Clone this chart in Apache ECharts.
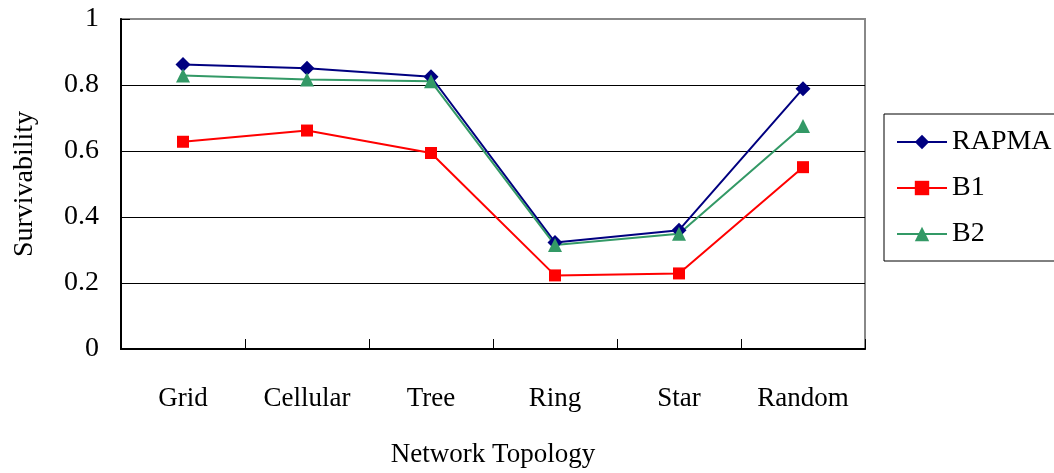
<!DOCTYPE html>
<html>
<head>
<meta charset="utf-8">
<script src="https://cdn.jsdelivr.net/npm/echarts@6/dist/echarts.min.js"></script>
<style>
  html, body { margin: 0; padding: 0; background: #fff; }
  #chart { width: 1054px; height: 473px; }
</style>
</head>
<body>
<div id="chart"></div>
<script>
// Survivability per network topology for the three schemes
const topologies = ['Grid', 'Cellular', 'Tree', 'Ring', 'Star', 'Random'];
const rapma = [0.862, 0.851, 0.825, 0.323, 0.360, 0.789];
const b1 = [0.628, 0.662, 0.594, 0.223, 0.229, 0.551];
const b2 = [0.829, 0.817, 0.811, 0.315, 0.349, 0.676];
const yTicks = [0, 0.2, 0.4, 0.6, 0.8, 1];

const FONT = '"Liberation Serif", "DejaVu Serif", serif';
const chart = echarts.init(document.getElementById('chart'), null, { renderer: 'canvas' });

function lineSeries(name, data, color, symbol, size) {
  return {
    name: name,
    type: 'line',
    data: data,
    symbol: symbol,
    symbolSize: size,
    lineStyle: { color: color, width: 2 },
    itemStyle: { color: color },
    emphasis: { disabled: true },
    animation: false
  };
}

chart.setOption({
  backgroundColor: '#fff',
  animation: false,
  grid: {
    left: 121, top: 19, right: 189, bottom: 123,
    show: true, borderColor: '#888', borderWidth: 2, backgroundColor: 'transparent'
  },
  legend: {
    left: 884, top: 114,
    orient: 'vertical',
    data: ['RAPMA', 'B1', 'B2'],
    itemWidth: 50, itemHeight: 18, itemGap: 14,
    padding: [12, 40, 11, 12],
    borderColor: '#000', borderWidth: 1, backgroundColor: '#fff',
    textStyle: { fontFamily: FONT, fontSize: 28, color: '#000', lineHeight: 32 }
  },
  xAxis: {
    type: 'category',
    data: topologies,
    boundaryGap: true,
    axisLine: { lineStyle: { color: '#000', width: 2 } },
    axisTick: { show: true, inside: true, length: 10, lineStyle: { color: '#000', width: 1 } },
    axisLabel: { fontFamily: FONT, fontSize: 27, color: '#000', margin: 36 },
    name: 'Network Topology',
    nameLocation: 'middle',
    nameGap: 92,
    nameTextStyle: { fontFamily: FONT, fontSize: 27, color: '#000' }
  },
  yAxis: {
    type: 'value',
    min: yTicks[0], max: yTicks[yTicks.length - 1], interval: 0.2,
    axisLine: { show: true, lineStyle: { color: '#000', width: 2 } },
    axisTick: { show: true, inside: true, length: 9, lineStyle: { color: '#000' } },
    axisLabel: { fontFamily: FONT, fontSize: 28, color: '#000', margin: 22,
      formatter: v => String(+v.toFixed(1)) },
    splitLine: { show: true, showMinLine: false, showMaxLine: false,
      lineStyle: { color: '#000', width: 1 } },
    name: 'Survivability',
    nameLocation: 'middle',
    nameGap: 82,
    nameTextStyle: { fontFamily: FONT, fontSize: 28, color: '#000' }
  },
  series: [
    lineSeries('RAPMA', rapma, '#000080', 'diamond', 15),
    lineSeries('B1', b1, '#ff0000', 'rect', 12),
    lineSeries('B2', b2, '#339966', 'triangle', 14)
  ]
});
</script>
</body>
</html>
